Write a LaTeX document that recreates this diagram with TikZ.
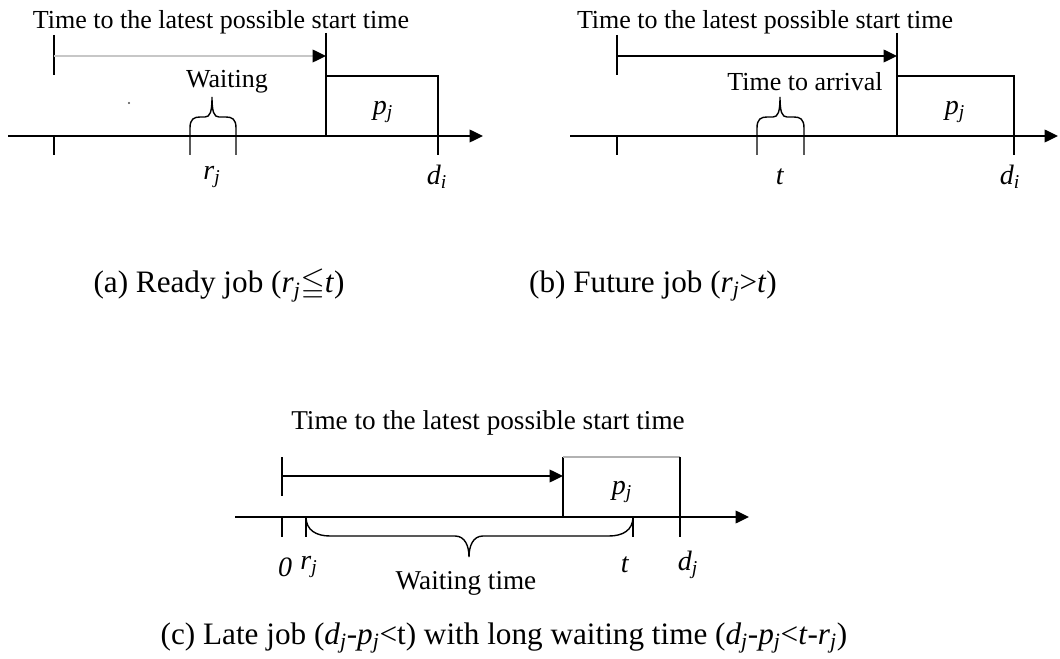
\documentclass[tikz,border=0pt]{standalone}
\usepackage{amssymb}
\usepackage{fontspec}
\setmainfont{Liberation Serif}
\usetikzlibrary{arrows.meta}
\newcommand\myv[2]{\textit{#1}\textsubscript{\textit{#2}}}
\begin{document}
\begin{tikzpicture}[x=0.75pt,y=-0.75pt,line width=1.05pt,
  headtip/.style={-{Triangle[length=10pt,width=9.5pt,color=black]}},
  graylink/.style={draw=black!22,headtip},
  lbl/.style={inner sep=0pt,font=\fontsize{19.5pt}{22pt}\selectfont},
  lblc/.style={inner sep=0pt,font=\fontsize{20.4pt}{23pt}\selectfont},
  varlbl/.style={inner sep=0pt,font=\fontsize{21pt}{24pt}\selectfont},
  captxt/.style={inner sep=0pt,font=\fontsize{23.4pt}{27pt}\selectfont}]
\useasboundingbox (0,0) rectangle (1060,659);

% ---------- panel (a) ----------
\coordinate (aL) at (8,136);
\coordinate (aR) at (483,136);
\coordinate (aT0t) at (54,136); \coordinate (aT0b) at (54,155);
\coordinate (aU0t) at (54,35); \coordinate (aU0b) at (54,75);
\coordinate (aAs) at (54,56); \coordinate (aAe) at (326,56);
\coordinate (aVt) at (326,33); \coordinate (aVb) at (326,136);
\coordinate (aB1) at (326,76); \coordinate (aB2) at (438,136);
\coordinate (aDt) at (438,136); \coordinate (aDb) at (438,155);
\draw[headtip] (aL) -- (aR);
\draw (aT0t) -- (aT0b);
\draw (aU0t) -- (aU0b);
\draw[graylink] (aAs) -- (aAe);
\draw (aVt) -- (aVb);
\draw (aB1) rectangle (aB2);
\draw (aDt) -- (aDb);
\coordinate (aBrL) at (190,155);
\coordinate (aBrR) at (236,155);
\draw (aBrL) -- ++(0,-27) .. controls +(0,-9) and +(-6,0) .. ++(10,-11) -- ++(5,0)
  .. controls +(5,0) and +(0,15) .. ++(7,-20)
  .. controls +(0,15) and +(-5,0) .. ++(7,20) -- ++(7,0)
  .. controls +(6,0) and +(0,-9) .. ++(10,11) -- (aBrR);
\node[lbl] (atitle) at (221,22) {Time to the latest possible start time};
\node[lbl] (await) at (227,82) {Waiting};
\node[varlbl] (apj) at (383,112) {\myv{p}{j}};
\node[varlbl] (arj) at (212,177) {\myv{r}{j}};
\node[varlbl] (adi) at (437,177) {\myv{d}{i}};
\node[inner sep=0pt,fill=black!70,circle,minimum size=1.6pt] (adot) at (129,103) {};

% ---------- panel (b) ----------
\coordinate (bL) at (570,136);
\coordinate (bR) at (1058,136);
\coordinate (bT0t) at (617,136); \coordinate (bT0b) at (617,155);
\coordinate (bU0t) at (617,35); \coordinate (bU0b) at (617,75);
\coordinate (bAs) at (617,56); \coordinate (bAe) at (897,56);
\coordinate (bVt) at (897,33); \coordinate (bVb) at (897,136);
\coordinate (bB1) at (897,76); \coordinate (bB2) at (1014,136);
\coordinate (bDt) at (1014,136); \coordinate (bDb) at (1014,155);
\draw[headtip] (bL) -- (bR);
\draw (bT0t) -- (bT0b);
\draw (bU0t) -- (bU0b);
\draw[headtip] (bAs) -- (bAe);
\draw (bVt) -- (bVb);
\draw (bB1) rectangle (bB2);
\draw (bDt) -- (bDb);
\coordinate (bBrL) at (757,155);
\coordinate (bBrR) at (804,155);
\draw (bBrL) -- ++(0,-27) .. controls +(0,-9) and +(-6,0) .. ++(10,-11) -- ++(6,0)
  .. controls +(5,0) and +(0,15) .. ++(7,-20)
  .. controls +(0,15) and +(-5,0) .. ++(7,20) -- ++(7,0)
  .. controls +(6,0) and +(0,-9) .. ++(10,11) -- (bBrR);
\node[lbl] (btitle) at (765,22) {Time to the latest possible start time};
\node[lbl] (barr) at (805,82) {Time to arrival};
\node[varlbl] (bpj) at (955,112) {\myv{p}{j}};
\node[varlbl] (bt) at (780,177) {\textit{t}};
\node[varlbl] (bdi) at (1010,177) {\myv{d}{i}};

% ---------- captions ----------
\node[captxt] (capa) at (219,286) {(a) Ready job (\myv{r}{j}$\leqq$\textit{t})};
\node[captxt] (capb) at (653,286) {(b) Future job (\myv{r}{j}{>}\textit{t})};

% ---------- panel (c) ----------
\coordinate (cL) at (235,517);
\coordinate (cR) at (749,517);
\coordinate (cZt) at (282,517); \coordinate (cZb) at (282,537);
\coordinate (cUt) at (282,457); \coordinate (cUb) at (282,496);
\coordinate (cAs) at (282,476); \coordinate (cAe) at (563,476);
\coordinate (cBL) at (563,517); \coordinate (cBLt) at (563,457);
\coordinate (cBRt) at (680,457); \coordinate (cBRb) at (680,537);
\coordinate (cRt) at (306,517); \coordinate (cRb) at (306,537);
\coordinate (cTt) at (633,517); \coordinate (cTb) at (633,537);
\draw[headtip] (cL) -- (cR);
\draw (cZt) -- (cZb);
\draw (cUt) -- (cUb);
\draw[headtip] (cAs) -- (cAe);
\draw (cBL) -- (cBLt);
\draw[black!30] (cBLt) -- (cBRt);
\draw (cBRt) -- (cBRb);
\draw (cRt) -- (cRb);
\draw (cTt) -- (cTb);
\draw (cRt) .. controls +(0,13) and +(-14,0) .. ++(24,19) -- (455,536)
  .. controls +(10,0) and +(0,-11) .. (469,557)
  .. controls +(0,-11) and +(-10,0) .. (483,536) -- (609,536)
  .. controls +(14,0) and +(0,13) .. (cTt);
\node[lblc] (ctitle) at (488,423) {Time to the latest possible start time};
\node[varlbl] (cpj) at (622,492) {\myv{p}{j}};
\node[varlbl] (czero) at (285,567) {\textit{0}};
\node[varlbl] (crj) at (309,567) {\myv{r}{j}};
\node[varlbl] (ct) at (625,565) {\textit{t}};
\node[varlbl] (cdj) at (688,565) {\myv{d}{j}};
\node[lblc] (cwait) at (466,583) {Waiting time};
\node[captxt] (capc) at (504,638) {(c) Late job (\myv{d}{j}-\myv{p}{j}{<}t) with long waiting time (\myv{d}{j}-\myv{p}{j}{<}\textit{t}-\myv{r}{j})};
\end{tikzpicture}
\end{document}
